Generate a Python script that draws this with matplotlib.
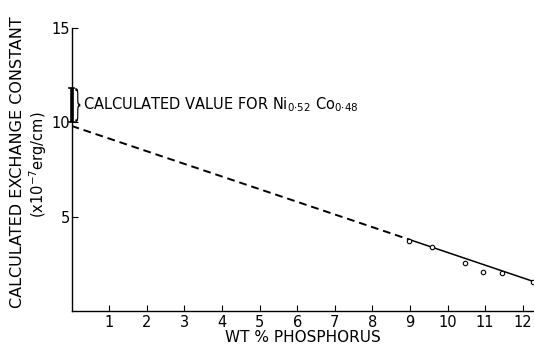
import numpy as np
import matplotlib.pyplot as plt
from matplotlib.textpath import TextPath
from matplotlib.patches import PathPatch
from matplotlib.transforms import Affine2D

# measured points (wt % P, exchange constant x1e-7 erg/cm)
wt_p = [8.98, 9.58, 10.46, 10.95, 11.46, 12.28]
exch = [3.70, 3.37, 2.54, 2.05, 1.99, 1.53]

# fitted straight line, dashed extrapolation back to 0 % P
line_x_dash = [0.0, 9.0]
line_y_dash = [9.8, 3.77]
line_x_solid = [9.0, 12.3]
line_y_solid = [3.77, 1.55]

# calculated value for Ni0.52 Co0.48 (range on the y axis)
calc_lo, calc_hi = 10.0, 11.8

xticks = list(range(1, 13))
yticks = [5, 10, 15]

fig = plt.figure(figsize=(5.34, 3.47), dpi=100)
ax = fig.add_axes([0.134, 0.104, 0.866, 0.816])

ax.plot(line_x_dash, line_y_dash, color='black', lw=1.4, ls=(0, (4, 2.5)))
ax.plot(line_x_solid, line_y_solid, color='black', lw=1.1)
ax.plot(wt_p, exch, 'o', ms=3.2, mfc='white', mec='black', mew=0.8, clip_on=False)

# calculated value bar with caps
ax.plot([0.0, 0.0], [calc_lo, calc_hi], color='black', lw=2.6,
        solid_capstyle='butt', clip_on=False)
ax.plot([-0.07, 0.07], [calc_hi, calc_hi], color='black', lw=1.2, clip_on=False)
ax.plot([-0.07, 0.07], [calc_lo, calc_lo], color='black', lw=1.2, clip_on=False)

ax.set_xlim(0, 12.3)
ax.set_ylim(0, 15)
ax.set_xticks(xticks)
ax.set_xticklabels([str(t) for t in xticks])
ax.set_yticks(yticks)
ax.set_yticklabels([str(t) for t in yticks])
ax.tick_params(direction='in', length=4, width=0.8, labelsize=10.5, pad=3)
ax.tick_params(axis='y', pad=1)

# tall thin brace spanning the bar (drawn in pixel space)
brace = TextPath((0, 0), '}', size=10)
bb = brace.get_extents()
x0, y0 = ax.transData.transform((0.1, calc_lo))
x1, y1 = ax.transData.transform((0.1, calc_hi))
tr = (Affine2D().translate(-bb.x0, -bb.y0)
      .scale(5.0 / bb.width, (y1 - y0) / bb.height)
      .translate(x0, y0))
ax.add_artist(PathPatch(brace, transform=tr, fc='black', ec='none', lw=0,
                        clip_on=False))
ax.text(0.30, (calc_lo + calc_hi) / 2 + 0.05,
        'CALCULATED VALUE FOR Ni$_{0{\\cdot}52}$ Co$_{0{\\cdot}48}$',
        fontsize=10.5, va='center', ha='left')

for s in ['top', 'right']:
    ax.spines[s].set_visible(False)
for s in ['left', 'bottom']:
    ax.spines[s].set_linewidth(1.0)

ax.set_xlabel('WT % PHOSPHORUS', fontsize=11, labelpad=0)
fig.text(0.032, 0.533, 'CALCULATED EXCHANGE CONSTANT', rotation=90,
         fontsize=11.5, ha='center', va='center')
fig.text(0.072, 0.525, '(x10$^{-7}$erg/cm)', rotation=90,
         fontsize=10.5, ha='center', va='center')

fig.savefig('out.png', dpi=100)
